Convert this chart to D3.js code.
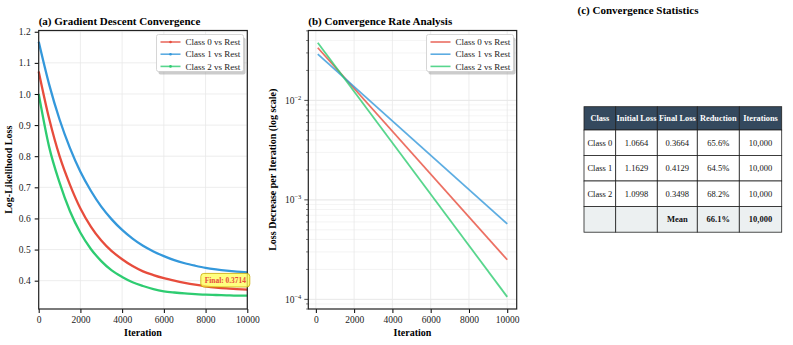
<!DOCTYPE html>
<html>
<head>
<meta charset="utf-8">
<script src="https://cdn.jsdelivr.net/npm/d3@7"></script>
<style>
  body { margin: 0; background: #fff; }
  text { font-family: "Liberation Serif", "Times New Roman", serif; }
</style>
</head>
<body>
<svg width="793" height="345"></svg>
<script>
// ---- data ----
const classes = ['Class 0 vs Rest', 'Class 1 vs Rest', 'Class 2 vs Rest'];
const colors = ['#e74c3c', '#3498db', '#2ecc71'];

const iters = [0, 500, 1000, 1500, 2000, 2500, 3000, 3500, 4000, 4500, 5000,
  5500, 6000, 6500, 7000, 7500, 8000, 8500, 9000, 9500, 10000];
const loss0 = [1.072, 0.921, 0.800, 0.708, 0.632, 0.574, 0.529, 0.495, 0.469, 0.447, 0.430,
  0.418, 0.408, 0.400, 0.393, 0.387, 0.382, 0.378, 0.375, 0.373, 0.371];
const loss1 = [1.168, 1.031, 0.918, 0.826, 0.750, 0.689, 0.638, 0.597, 0.563, 0.535, 0.512,
  0.494, 0.479, 0.466, 0.456, 0.448, 0.441, 0.436, 0.432, 0.429, 0.427];
const loss2 = [1.000, 0.830, 0.715, 0.623, 0.554, 0.502, 0.463, 0.433, 0.412, 0.395, 0.383,
  0.373, 0.366, 0.362, 0.359, 0.357, 0.355, 0.354, 0.353, 0.352, 0.352];

// loss decrease per iteration (straight lines on log scale)
const rateIters = [100, 10000];
const rate0 = [0.0338, 0.00025];
const rate1 = [0.0292, 0.000574];
const rate2 = [0.0379, 0.000106];

const finalLabel = 'Final: 0.3714';

const tableHeader = ['Class', 'Initial Loss', 'Final Loss', 'Reduction', 'Iterations'];
const tableRows = [
  ['Class 0', '1.0664', '0.3664', '65.6%', '10,000'],
  ['Class 1', '1.1629', '0.4129', '64.5%', '10,000'],
  ['Class 2', '1.0998', '0.3498', '68.2%', '10,000'],
  ['', '', 'Mean', '66.1%', '10,000']
];

const svg = d3.select('svg');
const gridColor = '#e8e8e8';
const serif = '"Liberation Serif", "Times New Roman", serif';

function legend(g, x, y, withMarker) {
  const lg = g.append('g').attr('transform', `translate(${x},${y})`);
  lg.append('rect').attr('x', 2).attr('y', 3).attr('width', 87).attr('height', 37)
    .attr('rx', 2).attr('fill', '#999').attr('opacity', 0.5);
  lg.append('rect').attr('width', 87).attr('height', 37).attr('rx', 2)
    .attr('fill', '#fff').attr('stroke', '#ccc').attr('stroke-width', 0.8);
  classes.forEach((c, i) => {
    const yy = 7.5 + i * 12.2;
    lg.append('line').attr('x1', 4).attr('x2', 24).attr('y1', yy).attr('y2', yy)
      .attr('stroke', colors[i]).attr('stroke-width', 1.6).attr('opacity', 0.8);
    if (withMarker) {
      lg.append('circle').attr('cx', 14).attr('cy', yy).attr('r', 1.3).attr('fill', colors[i]);
    }
    lg.append('text').attr('x', 29).attr('y', yy + 3.2).attr('font-size', 9)
      .attr('fill', '#222').text(c);
  });
}

function frame(g, x0, x1, y0, y1) {
  g.append('rect').attr('x', x0).attr('y', y0).attr('width', x1 - x0).attr('height', y1 - y0)
    .attr('fill', 'none').attr('stroke', '#222').attr('stroke-width', 1.2);
}

function styleAxis(s) {
  s.attr('font-family', serif).attr('font-size', 9.5);
  s.select('.domain').remove();
  s.selectAll('text').attr('fill', '#222');
}

// ---------------- panel (a) ----------------
const ax = { left: 38.7, right: 247.3, top: 30.5, bottom: 309 };
const xa = d3.scaleLinear().domain([0, 10000]).range([ax.left, ax.right]);
const ya = d3.scaleLinear().domain([0.309, 1.204]).range([ax.bottom, ax.top]);
const ga = svg.append('g');

const yTicksA = [0.4, 0.5, 0.6, 0.7, 0.8, 0.9, 1.0, 1.1, 1.2];
const xTicks = [0, 2000, 4000, 6000, 8000, 10000];

ga.append('g').selectAll('line').data(xTicks).join('line')
  .attr('x1', d => xa(d)).attr('x2', d => xa(d)).attr('y1', ax.top).attr('y2', ax.bottom)
  .attr('stroke', gridColor).attr('stroke-width', 0.8);
ga.append('g').selectAll('line').data(yTicksA).join('line')
  .attr('x1', ax.left).attr('x2', ax.right).attr('y1', d => ya(d)).attr('y2', d => ya(d))
  .attr('stroke', gridColor).attr('stroke-width', 0.8);

const lossSeries = [loss0, loss1, loss2];
const lineA = d3.line().x((d, i) => xa(iters[i])).y(d => ya(d)).curve(d3.curveMonotoneX);
lossSeries.forEach((s, k) => {
  ga.append('path').datum(s).attr('d', lineA).attr('fill', 'none')
    .attr('stroke', colors[k]).attr('stroke-width', 2.3);
});

ga.append('g').attr('transform', `translate(0,${ax.bottom})`)
  .call(d3.axisBottom(xa).tickValues(xTicks).tickFormat(d3.format('d')).tickSize(4).tickPadding(3))
  .call(styleAxis);
ga.append('g').attr('transform', `translate(${ax.left},0)`)
  .call(d3.axisLeft(ya).tickValues(yTicksA).tickFormat(d3.format('.1f')).tickSize(4).tickPadding(4))
  .call(styleAxis);
frame(ga, ax.left, ax.right, ax.top, ax.bottom);

ga.append('text').attr('x', ax.left).attr('y', 25).attr('font-size', 11)
  .attr('font-weight', 'bold').text('(a) Gradient Descent Convergence');
ga.append('text').attr('x', (ax.left + ax.right) / 2).attr('y', 336).attr('text-anchor', 'middle')
  .attr('font-size', 10).attr('font-weight', 'bold').text('Iteration');
ga.append('text').attr('transform', `translate(12,${(ax.top + ax.bottom) / 2}) rotate(-90)`)
  .attr('text-anchor', 'middle').attr('font-size', 10).attr('font-weight', 'bold')
  .text('Log-Likelihood Loss');

legend(ga, 156.5, 34.5, true);

// annotation on the final point of class 0
const fx = xa(iters[iters.length - 1]), fy = ya(loss0[loss0.length - 1]);
const ann = ga.append('g').attr('transform', `translate(${fx - 22},${fy - 9.5})`);
ann.append('rect').attr('x', -24.5).attr('y', -6.8).attr('width', 49).attr('height', 13.6)
  .attr('rx', 3).attr('fill', '#ffff55').attr('fill-opacity', 0.75)
  .attr('stroke', '#c9a800').attr('stroke-width', 0.8);
ann.append('text').attr('text-anchor', 'middle').attr('y', 2.6).attr('font-size', 7.4)
  .attr('font-weight', 'bold').attr('fill', '#e74c3c').text(finalLabel);

// ---------------- panel (b) ----------------
const bx = { left: 308.3, right: 516.7, top: 30.5, bottom: 309 };
const xb = d3.scaleLinear().domain([-395, 10495]).range([bx.left, bx.right]);
const yb = d3.scaleLog().domain([8.0e-5, 0.0504]).range([bx.bottom, bx.top]);
const gb = svg.append('g');

const minorB = [];
[1e-5, 1e-4, 1e-3, 1e-2].forEach(p => { for (let m = 1; m < 10; m++) minorB.push(p * m); });
const minorIn = minorB.filter(v => v >= 8e-5 && v <= 0.0504);
const majorB = [1e-4, 1e-3, 1e-2];

gb.append('g').selectAll('line').data(minorIn).join('line')
  .attr('x1', bx.left).attr('x2', bx.right).attr('y1', d => yb(d)).attr('y2', d => yb(d))
  .attr('stroke', '#efefef').attr('stroke-width', 0.7);
gb.append('g').selectAll('line').data(majorB).join('line')
  .attr('x1', bx.left).attr('x2', bx.right).attr('y1', d => yb(d)).attr('y2', d => yb(d))
  .attr('stroke', gridColor).attr('stroke-width', 0.9);
gb.append('g').selectAll('line').data(xTicks).join('line')
  .attr('x1', d => xb(d)).attr('x2', d => xb(d)).attr('y1', bx.top).attr('y2', bx.bottom)
  .attr('stroke', gridColor).attr('stroke-width', 0.8);

const rateSeries = [rate0, rate1, rate2];
const lineB = d3.line().x((d, i) => xb(rateIters[i])).y(d => yb(d));
rateSeries.forEach((s, k) => {
  gb.append('path').datum(s).attr('d', lineB).attr('fill', 'none')
    .attr('stroke', colors[k]).attr('stroke-width', 1.8).attr('opacity', 0.8);
});

gb.append('g').attr('transform', `translate(0,${bx.bottom})`)
  .call(d3.axisBottom(xb).tickValues(xTicks).tickFormat(d3.format('d')).tickSize(4).tickPadding(3))
  .call(styleAxis);
// minor ticks on log axis
gb.append('g').selectAll('line').data(minorIn.filter(v => !majorB.some(m => Math.abs(m - v) < 1e-12))).join('line')
  .attr('x1', bx.left - 2.2).attr('x2', bx.left).attr('y1', d => yb(d)).attr('y2', d => yb(d))
  .attr('stroke', '#222').attr('stroke-width', 0.6);
const majG = gb.append('g').selectAll('g').data(majorB).join('g')
  .attr('transform', d => `translate(${bx.left},${yb(d)})`);
majG.append('line').attr('x1', -4).attr('x2', 0).attr('stroke', '#222').attr('stroke-width', 0.8);
const lab = majG.append('text').attr('x', -7).attr('y', 3.5).attr('text-anchor', 'end')
  .attr('font-size', 9.5).attr('fill', '#222');
lab.append('tspan').text('10');
lab.append('tspan').attr('dy', -4).attr('font-size', 6.5).text(d => '\u2212' + Math.round(-Math.log10(d)));
frame(gb, bx.left, bx.right, bx.top, bx.bottom);

gb.append('text').attr('x', bx.left).attr('y', 25).attr('font-size', 11)
  .attr('font-weight', 'bold').text('(b) Convergence Rate Analysis');
gb.append('text').attr('x', (bx.left + bx.right) / 2).attr('y', 336).attr('text-anchor', 'middle')
  .attr('font-size', 10).attr('font-weight', 'bold').text('Iteration');
gb.append('text').attr('transform', `translate(276,${(bx.top + bx.bottom) / 2}) rotate(-90)`)
  .attr('text-anchor', 'middle').attr('font-size', 10).attr('font-weight', 'bold')
  .text('Loss Decrease per Iteration (log scale)');

legend(gb, 426.5, 34.5, false);

// ---------------- panel (c) table ----------------
const gc = svg.append('g');
gc.append('text').attr('x', 638).attr('y', 14).attr('text-anchor', 'middle')
  .attr('font-size', 11).attr('font-weight', 'bold').text('(c) Convergence Statistics');

const colEdges = [584, 615.7, 657.3, 697.3, 739.3, 781.7];
const rowEdges = [106.7, 130, 155.5, 181, 206.5, 232.2];

tableHeader.forEach((h, j) => {
  gc.append('rect').attr('x', colEdges[j]).attr('y', rowEdges[0])
    .attr('width', colEdges[j + 1] - colEdges[j]).attr('height', rowEdges[1] - rowEdges[0])
    .attr('fill', '#34495e').attr('stroke', '#222').attr('stroke-width', 0.8);
  gc.append('text').attr('x', (colEdges[j] + colEdges[j + 1]) / 2)
    .attr('y', (rowEdges[0] + rowEdges[1]) / 2 + 3).attr('text-anchor', 'middle')
    .attr('font-size', 8.3).attr('font-weight', 'bold').attr('fill', '#fff').text(h);
});
tableRows.forEach((row, i) => {
  const last = i === tableRows.length - 1;
  row.forEach((cell, j) => {
    gc.append('rect').attr('x', colEdges[j]).attr('y', rowEdges[i + 1])
      .attr('width', colEdges[j + 1] - colEdges[j]).attr('height', rowEdges[i + 2] - rowEdges[i + 1])
      .attr('fill', last ? '#ecf0f1' : '#fff').attr('stroke', '#222').attr('stroke-width', 0.8);
    gc.append('text').attr('x', (colEdges[j] + colEdges[j + 1]) / 2)
      .attr('y', (rowEdges[i + 1] + rowEdges[i + 2]) / 2 + 3).attr('text-anchor', 'middle')
      .attr('font-size', 8.5).attr('font-weight', last ? 'bold' : 'normal').attr('fill', '#111')
      .text(cell);
  });
});
</script>
</body>
</html>
